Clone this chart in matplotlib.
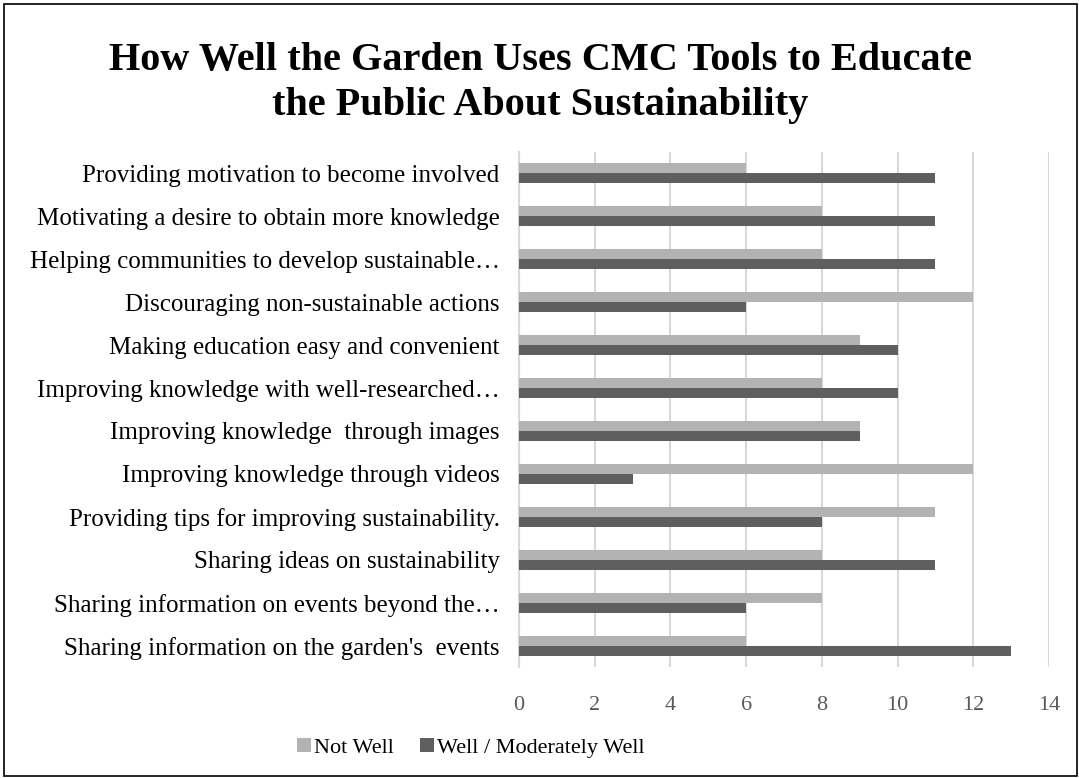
import matplotlib
matplotlib.use("Agg")
import matplotlib.pyplot as plt
import numpy as np
from matplotlib.patches import Rectangle

# Data (top to bottom)
categories = [
    "Providing motivation to become involved",
    "Motivating a desire to obtain more knowledge",
    "Helping communities to develop sustainable…",
    "Discouraging non-sustainable actions",
    "Making education easy and convenient",
    "Improving knowledge with well-researched…",
    "Improving knowledge  through images",
    "Improving knowledge through videos",
    "Providing tips for improving sustainability.",
    "Sharing ideas on sustainability",
    "Sharing information on events beyond the…",
    "Sharing information on the garden's  events",
]
not_well = [6, 8, 8, 12, 9, 8, 9, 12, 11, 8, 8, 6]
well_moderately = [11, 11, 11, 6, 10, 10, 9, 3, 8, 11, 6, 13]
x_ticks = [0, 2, 4, 6, 8, 10, 12, 14]

light_color = '#b3b3b3'
dark_color = '#5f5f5f'
grid_color = '#d9d9d9'
serif = ['Liberation Serif', 'DejaVu Serif']

plt.rcParams['font.family'] = serif

fig = plt.figure(figsize=[10.79, 7.78], dpi=100)
ax = fig.add_axes([519 / 1079, 1 - 667 / 778, 530 / 1079, 515 / 778])

y = np.arange(len(categories))[::-1]
bar_h = 0.233
ax.barh(y + bar_h / 2, not_well, height=bar_h, color=light_color, label='Not Well', zorder=3)
ax.barh(y - bar_h / 2, well_moderately, height=bar_h, color=dark_color,
        label='Well / Moderately Well', zorder=3)

ax.set_xlim(0, 14)
ax.set_ylim(-0.5, len(categories) - 0.5)
ax.set_xticks(x_ticks)
ax.set_yticks(y)
ax.set_yticklabels(categories, fontsize=18, color='black')
ax.tick_params(axis='x', labelsize=16, labelcolor='#595959', length=0, pad=21)
ax.tick_params(axis='y', length=0, pad=14)
ax.xaxis.grid(True, color=grid_color, linewidth=1.5, zorder=0)
for side in ['top', 'right', 'bottom']:
    ax.spines[side].set_visible(False)
ax.spines['left'].set_color(grid_color)
ax.spines['left'].set_linewidth(1.5)

fig.text(540 / 1079, 1 - 83 / 778,
         'How Well the Garden Uses CMC Tools to Educate\nthe Public About Sustainability',
         ha='center', va='center', fontsize=29, fontweight='bold', linespacing=1.3)

fig.legend(loc='center', bbox_to_anchor=(471 / 1079, 1 - 748 / 778), ncol=2,
           frameon=False, fontsize=16, handlelength=0.6, handleheight=0.6,
           handletextpad=0.15, columnspacing=1.2)

# Outer border like the chart frame
fig.patches.append(Rectangle((0.004, 0.002), 0.994, 0.993, transform=fig.transFigure,
                             fill=False, edgecolor='black', linewidth=1.2))

plt.savefig('out.png', dpi=100)
